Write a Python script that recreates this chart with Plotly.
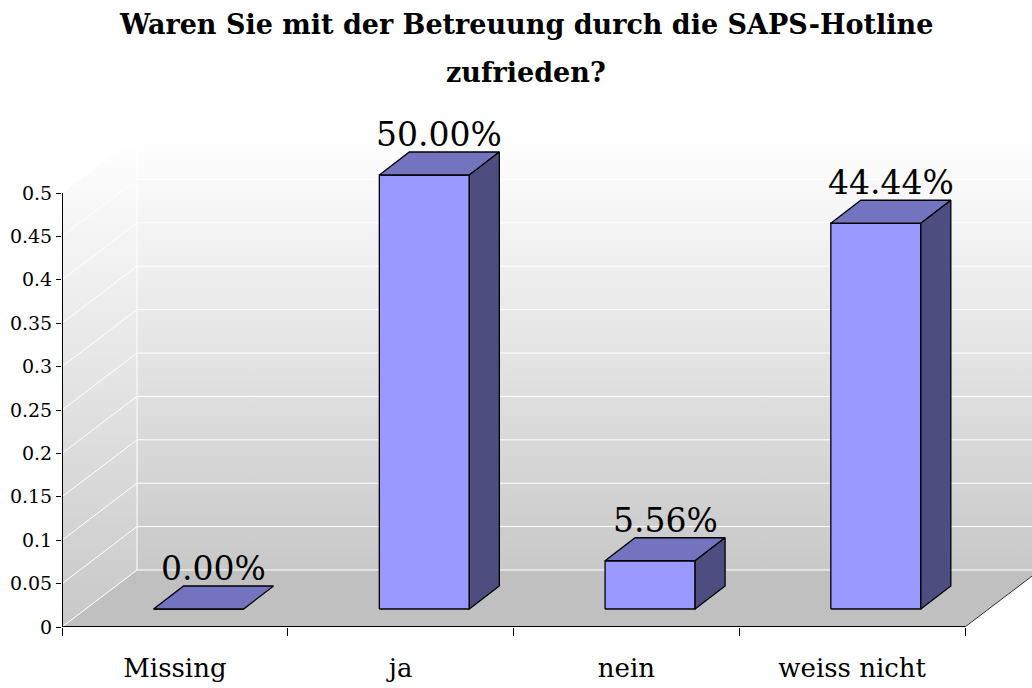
import plotly.graph_objects as go

# ---------------- data ----------------
categories = ["Missing", "ja", "nein", "weiss nicht"]
values = [0.0, 0.5, 0.0556, 0.4444]
value_labels = ["0.00%", "50.00%", "5.56%", "44.44%"]
y_ticks = [0, 0.05, 0.1, 0.15, 0.2, 0.25, 0.3, 0.35, 0.4, 0.45, 0.5]
y_tick_labels = ["0", "0.05", "0.1", "0.15", "0.2", "0.25", "0.3", "0.35", "0.4", "0.45", "0.5"]
title_lines = ["Waren Sie mit der Betreuung durch die SAPS-Hotline", "zufrieden?"]

# ---------------- layout geometry (pixels) ----------------
W, H = 1032, 688
ML, MR, MT, MB = 62, 0, 125, 61
PW, PH = W - ML - MR, H - MT - MB
N = len(categories)
X0 = -0.5
X3 = N - 0.5
PX_X = 225.75                 # px per category slot
PX_Y = 434 / max(y_ticks)     # px per unit of value
X1 = X0 + PW / PX_X
Y1 = PH / PX_Y
Y_TOP = max(y_ticks)

def dx(px):
    return px / PX_X

def dy(px):
    return px / PX_Y

WDX, WDY = dx(75), dy(57)          # depth of the 3D frame
BOX, BOY = dx(23.7), dy(18)        # bar front offset
BDX, BDY = dx(30), dy(23)          # bar depth
BHW = dx(45)                       # bar front half width

SERIF = "DejaVu Serif"
FRONT, TOP, SIDE = "#9999FF", "#7373BF", "#4D4D80"

fig = go.Figure()

grad = dict(type="vertical", colorscale=[[0, "#c8c8c8"], [0.5, "#e4e4e4"], [1, "#ffffff"]])

# left wall
fig.add_trace(go.Scatter(
    x=[X0, X0 + WDX, X0 + WDX, X0, X0],
    y=[0, WDY, Y_TOP + WDY, Y_TOP, 0],
    mode="lines", fill="toself", line=dict(width=0), fillgradient=grad,
    hoverinfo="skip", showlegend=False))
# back wall
fig.add_trace(go.Scatter(
    x=[X0 + WDX, X3 + WDX, X3 + WDX, X0 + WDX, X0 + WDX],
    y=[WDY, WDY, Y_TOP + WDY, Y_TOP + WDY, WDY],
    mode="lines", fill="toself", line=dict(width=0), fillgradient=grad,
    hoverinfo="skip", showlegend=False))
# floor
fig.add_trace(go.Scatter(
    x=[X0, X3, X3 + WDX, X0 + WDX, X0],
    y=[0, 0, WDY, WDY, 0],
    mode="lines", fill="toself", line=dict(width=0), fillcolor="#c0c0c0",
    hoverinfo="skip", showlegend=False))

# gridlines
gx, gy = [], []
for v in y_ticks:
    gx += [X0, X0 + WDX, X3 + WDX, None]
    gy += [v, v + WDY, v + WDY, None]
gx += [X0 + WDX, X0 + WDX, None]
gy += [WDY, Y_TOP + WDY, None]
fig.add_trace(go.Scatter(x=gx, y=gy, mode="lines", line=dict(color="white", width=1),
                         hoverinfo="skip", showlegend=False))
# floor right edge
fig.add_trace(go.Scatter(x=[X3, X3 + WDX], y=[0, WDY], mode="lines",
                         line=dict(color="#333333", width=1), hoverinfo="skip", showlegend=False))
# axis lines
fig.add_trace(go.Scatter(x=[X0, X3, None, X0, X0], y=[0, 0, None, 0, Y_TOP], mode="lines",
                         line=dict(color="black", width=2), hoverinfo="skip", showlegend=False))

# bars
for i, v in enumerate(values):
    xl = i + BOX - BHW
    xr = i + BOX + BHW
    yb = BOY
    yt = BOY + v
    # front
    fig.add_trace(go.Scatter(x=[xl, xr, xr, xl, xl], y=[yb, yb, yt, yt, yb], mode="lines",
                             fill="toself", fillcolor=FRONT, line=dict(color="black", width=1.3),
                             hoverinfo="skip", showlegend=False))
    # top
    fig.add_trace(go.Scatter(x=[xl, xr, xr + BDX, xl + BDX, xl], y=[yt, yt, yt + BDY, yt + BDY, yt],
                             mode="lines", fill="toself", fillcolor=TOP,
                             line=dict(color="black", width=1.3), hoverinfo="skip", showlegend=False))
    # side
    if v > 0:
        fig.add_trace(go.Scatter(x=[xr, xr + BDX, xr + BDX, xr, xr], y=[yb, yb + BDY, yt + BDY, yt, yb],
                                 mode="lines", fill="toself", fillcolor=SIDE,
                                 line=dict(color="black", width=1.3), hoverinfo="skip", showlegend=False))
    fig.add_annotation(x=i + BOX + BDX / 2, y=yt + BDY, text=value_labels[i], showarrow=False,
                       xanchor="center", yanchor="bottom", yshift=-4,
                       font=dict(family=SERIF, size=33, color="black"))

# title
fig.add_annotation(xref="paper", yref="paper", x=(526 - ML) / PW, y=(H - MB - 25) / PH,
                   text="<b>" + title_lines[0] + "</b>", showarrow=False,
                   xanchor="center", yanchor="middle", font=dict(family=SERIF, size=27, color="black"))
fig.add_annotation(xref="paper", yref="paper", x=(526 - ML) / PW, y=(H - MB - 72) / PH,
                   text="<b>" + title_lines[1] + "</b>", showarrow=False,
                   xanchor="center", yanchor="middle", font=dict(family=SERIF, size=27, color="black"))

fig.update_layout(
    width=W, height=H,
    margin=dict(l=ML, r=MR, t=MT, b=MB, pad=0),
    paper_bgcolor="white", plot_bgcolor="white",
    showlegend=False,
    xaxis=dict(range=[X0, X1], showgrid=False, zeroline=False, showline=False,
               tickvals=list(range(N)), ticktext=categories, ticks="",
               tickfont=dict(family=SERIF, size=26, color="black"),
               ticklabelstandoff=23,
               minor=dict(tickvals=[i - 0.5 for i in range(N + 1)], ticks="outside",
                          ticklen=8, tickcolor="black", tickwidth=1, showgrid=False),
               automargin=False, fixedrange=True),
    yaxis=dict(range=[0, Y1], showgrid=False, zeroline=False, showline=False,
               tickvals=y_ticks, ticktext=y_tick_labels, ticks="outside", ticklen=5,
               tickcolor="black", tickwidth=1,
               tickfont=dict(family=SERIF, size=19, color="black"),
               automargin=False, fixedrange=True),
)

fig.write_html("out.html", config={"displayModeBar": False},
               post_script="document.body.style.margin='0';")
